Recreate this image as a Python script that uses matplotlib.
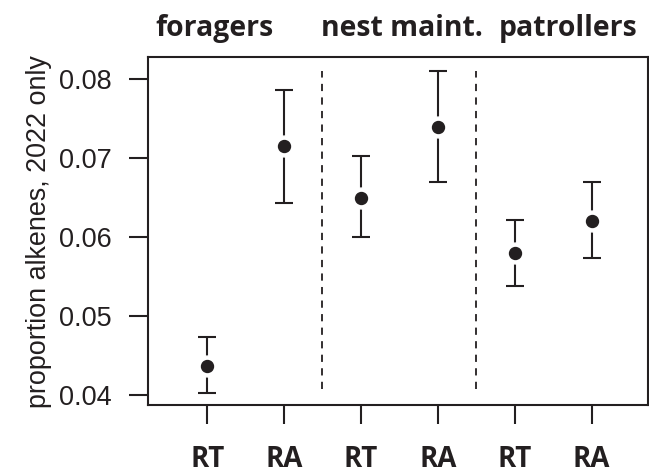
import numpy as np
import matplotlib
matplotlib.use('Agg')
import matplotlib.pyplot as plt

# values (means and CI limits)
groups = ['foragers', 'nest maint.', 'patrollers']
tick_labels = ['RT', 'RA', 'RT', 'RA', 'RT', 'RA']
xpos = [1, 2, 3, 4, 5, 6]
means = [0.0437, 0.0715, 0.0650, 0.0739, 0.0580, 0.0620]
upper = [0.0473, 0.0786, 0.0703, 0.0810, 0.0622, 0.0670]
lower = [0.0403, 0.0643, 0.0600, 0.0670, 0.0538, 0.0573]
dividers = [2.5, 4.5]
group_centers = [1.1, 3.53, 5.69]

ink = '#231f20'
plt.rcParams['font.family'] = ['Liberation Sans', 'DejaVu Sans']

fig = plt.figure(figsize=(6.49, 4.75), dpi=100)
ax = fig.add_axes([0.228, 0.147, 0.770, 0.733])

means = np.array(means)
yerr = [means - np.array(lower), np.array(upper) - means]
ax.errorbar(xpos, means, yerr=yerr, fmt='none', ecolor=ink, elinewidth=1.5,
            capsize=6.5, capthick=1.5, zorder=2)
# white halo leaves a small gap between dot and whisker, like R's plotCI
ax.plot(xpos, means, 'o', color='white', markersize=15, zorder=3)
ax.plot(xpos, means, 'o', color=ink, markersize=8.6, zorder=4)

for xd in dividers:
    ax.plot([xd, xd], [0.0408, 0.0810], '--', color=ink, lw=1.3,
            dashes=(4, 3.5), zorder=1)

ax.set_xlim(0.23, 6.73)
ax.set_ylim(0.03873, 0.0828)
ax.set_yticks([0.04, 0.05, 0.06, 0.07, 0.08])
ax.set_yticklabels(['0.04', '0.05', '0.06', '0.07', '0.08'], fontsize=19.5)
ax.set_xticks(xpos)
ax.set_xticklabels(tick_labels, fontsize=20, fontweight='bold',
                   family=['Open Sans', 'DejaVu Sans'])
ax.tick_params(axis='both', direction='out', length=14, width=1.5, color=ink,
               labelcolor=ink)
ax.tick_params(axis='x', pad=15)
ax.tick_params(axis='y', pad=12)
for s in ax.spines.values():
    s.set_linewidth(1.5)
    s.set_color(ink)

ax.set_ylabel('proportion alkenes, 2022 only', fontsize=19.4, color=ink,
              labelpad=5)

for gx, name in zip(group_centers, groups):
    ax.text(gx, 1.083, name, transform=ax.get_xaxis_transform(), ha='center',
            va='center', fontsize=20.4, fontweight='bold', color=ink,
            family=['Open Sans', 'DejaVu Sans'])

fig.savefig('out.png', dpi=100)
